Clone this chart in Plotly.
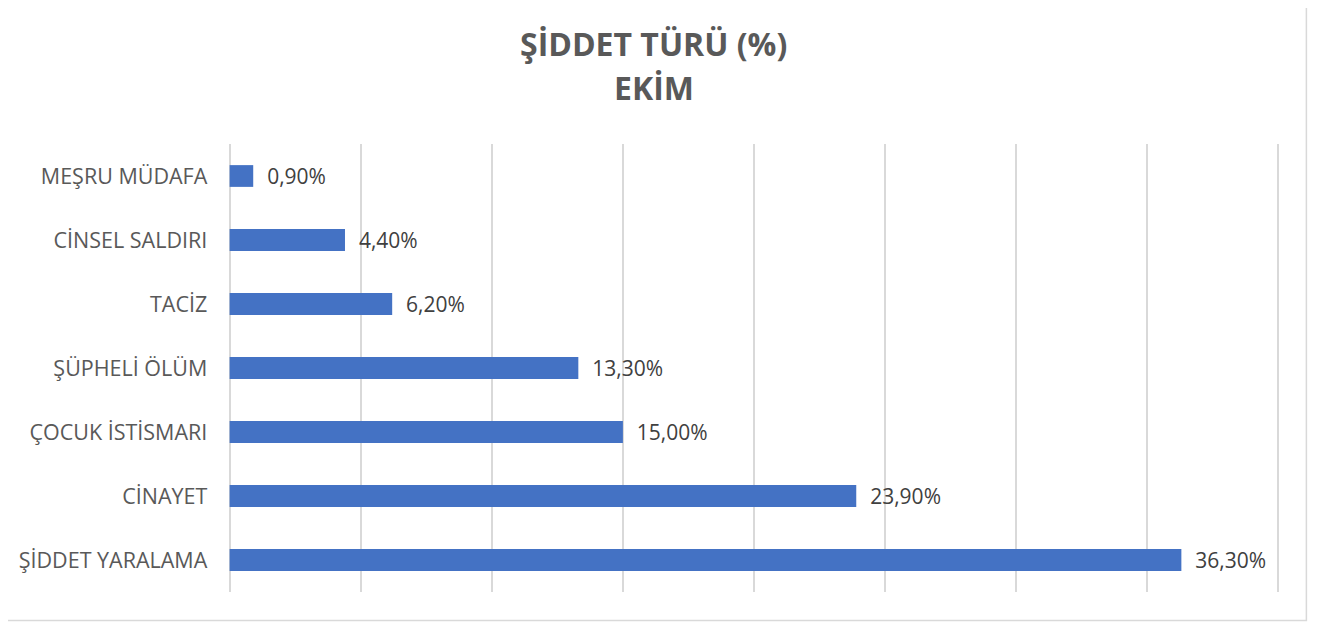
import plotly.graph_objects as go

categories = ["MEŞRU MÜDAFA", "CİNSEL SALDIRI", "TACİZ", "ŞÜPHELİ ÖLÜM",
              "ÇOCUK İSTİSMARI", "CİNAYET", "ŞİDDET YARALAMA"]
values = [0.9, 4.4, 6.2, 13.3, 15.0, 23.9, 36.3]
title_line1 = "ŞİDDET TÜRÜ (%)"
title_line2 = "EKİM"

labels = ["  " + f"{v:.2f}%".replace(".", ",") for v in values]

# page body has an 8px default margin; work in reference pixel coords
OFF = 8
PAD = 0.1           # axis padding (in %) so end gridlines are drawn
UNIT = 1048 / 40    # px per percent
W, H = 1322 - OFF, 623 - OFF
L, R, T, B = 230 - OFF - PAD * UNIT, 44 - PAD * UNIT, 144 - OFF, 31
pw, ph = W - L - R, H - T - B

def px_x(x):
    return (x - OFF - L) / pw

def px_y(y):
    return (H - B - (y - OFF)) / ph

fig = go.Figure(go.Bar(
    x=values, y=categories, orientation="h",
    marker=dict(color="#4472C4", line=dict(width=0)),
    width=0.34,
    text=labels, textposition="outside", cliponaxis=False,
    constraintext="none",
    textfont=dict(family="Open Sans", size=21, color="#404040"),
    hoverinfo="skip",
))

fig.update_layout(
    width=W, height=H,
    margin=dict(l=L, r=R, t=T, b=B, autoexpand=False),
    paper_bgcolor="white", plot_bgcolor="white",
    showlegend=False,
    xaxis=dict(range=[-PAD, 40 + PAD], dtick=5, tick0=0, showgrid=True,
               gridcolor="#d9d9d9", gridwidth=1.5, showticklabels=False,
               zeroline=False, showline=False, fixedrange=True,
               automargin=False),
    yaxis=dict(autorange="reversed", showgrid=False, showline=False,
               automargin=False,
               ticks="outside", ticklen=17 - PAD * UNIT, tickcolor="rgba(0,0,0,0)",
               tickfont=dict(family="Open Sans", size=21.5, color="#595959")),
    annotations=[
        dict(text=f"<b>{title_line1}</b>", x=px_x(654), y=px_y(44),
             xref="paper", yref="paper", xanchor="center", yanchor="middle",
             showarrow=False, font=dict(family="Open Sans", size=32, color="#595959")),
        dict(text=f"<b>{title_line2}</b>", x=px_x(654), y=px_y(87),
             xref="paper", yref="paper", xanchor="center", yanchor="middle",
             showarrow=False, font=dict(family="Open Sans", size=32, color="#595959")),
    ],
    shapes=[
        dict(type="rect", xref="paper", yref="paper",
             x0=px_x(4.5), x1=px_x(1306), y0=px_y(620.5), y1=px_y(-2),
             line=dict(color="#d9d9d9", width=1.5), fillcolor="rgba(0,0,0,0)",
             layer="below"),
    ],
)

fig.write_html("out.html")
